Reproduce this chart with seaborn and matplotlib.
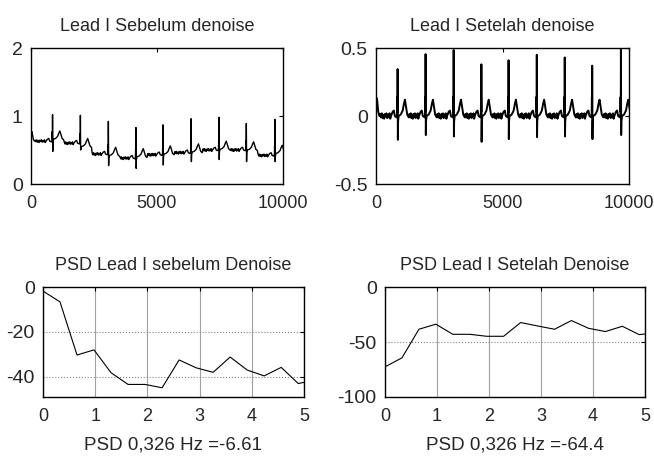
import numpy as np
import matplotlib
matplotlib.use('Agg')
import matplotlib.pyplot as plt
import seaborn as sns

# ECG beats (sample index of each R peak) shared by both traces
beat_pos = [855, 1960, 3070, 4165, 5240, 6355, 7460, 8545, 9680]

# raw lead I (before denoise): R peak, S trough, baseline before / after each beat
raw_r = [1.02, 1.01, 0.92, 0.83, 0.87, 0.96, 0.98, 0.89, 0.95]
raw_s = [0.48, 0.50, 0.27, 0.23, 0.28, 0.33, 0.36, 0.33, 0.33]
raw_pre = [0.63, 0.60, 0.44, 0.38, 0.43, 0.46, 0.50, 0.50, 0.42]
raw_post = [0.66, 0.55, 0.42, 0.40, 0.44, 0.47, 0.51, 0.50, 0.45]
raw_lead = [0.75, 0.77, 0.66, 0.63]

# lead I after denoise
clean_r = [0.345, 0.455, 0.485, 0.38, 0.41, 0.45, 0.43, 0.37, 0.49]
clean_s = [-0.175, -0.14, -0.15, -0.19, -0.17, -0.155, -0.15, -0.17, -0.14]
clean_pre = [0, 0, 0, 0, 0, 0, 0, 0, 0]
clean_post = [0, 0, 0, 0, 0, 0, 0, 0, 0]
clean_lead = [0.12, 0.13, 0.03, 0.0]

# beat shape around R (offsets in samples, level relative to baseline)
lead_x = [0, 40, 90, 140]
pre_off = [-260, -200, -150, -110, -40, -20, -12, -6]
pre_val = [0.0, 0.03, 0.04, 0.0, -0.01, 0.02, 0.14, 0.03]
s_off = 10
post_off = [18, 40, 120, 200, 250, 290, 330, 380, 440]
post_val = [-0.04, 0.0, 0.01, 0.04, 0.09, 0.12, 0.07, 0.01, -0.01]
ripple = [0.015, -0.01, 0.02, -0.015, 0.01, -0.02, 0.015, -0.005, 0.02, -0.015, 0.01, -0.01, 0.02, -0.02]

# PSD (dB) at 0.326 Hz resolution
psd_freq = [0, 0.326, 0.652, 0.978, 1.304, 1.630, 1.956, 2.282, 2.608, 2.934,
            3.260, 3.586, 3.912, 4.238, 4.564, 4.890, 5.216]
psd_before = [-1.8, -6.61, -30.3, -28.0, -38.2, -43.4, -43.4, -44.9, -32.5, -36.0,
              -38.0, -31.2, -37.0, -39.6, -35.8, -43.0, -41.5]
psd_after = [-72.6, -64.4, -38.4, -33.8, -43.0, -43.0, -44.8, -44.8, -32.3, -35.4,
             -38.4, -30.5, -37.5, -40.5, -35.7, -43.3, -41.5]


def build_ecg(lead, r_amp, s_amp, pre, post):
    xs, ys = list(lead_x), list(lead)
    gap_start = lead_x[-1]
    for i, p in enumerate(beat_pos):
        gx = np.linspace(gap_start, p + pre_off[0], len(ripple) + 2)[1:-1]
        xs += list(gx)
        ys += [pre[i] + v for v in ripple]
        xs += [p + o for o in pre_off] + [p, p + s_off] + [p + o for o in post_off]
        ys += [pre[i] + v for v in pre_val] + [r_amp[i], s_amp[i]] + [post[i] + v for v in post_val]
        gap_start = p + post_off[-1]
    return np.array(xs), np.array(ys)


sns.set_theme(style='white')
plt.rcParams['font.family'] = ['Liberation Sans', 'DejaVu Sans']
plt.rcParams['axes.unicode_minus'] = False

fig = plt.figure(figsize=(6.54, 4.59), dpi=100)
ax_tl = fig.add_axes([0.0474, 0.5991, 0.3853, 0.2963])
ax_tr = fig.add_axes([0.5749, 0.5991, 0.3869, 0.2963])
ax_bl = fig.add_axes([0.0657, 0.1351, 0.3991, 0.2396])
ax_br = fig.add_axes([0.5887, 0.1351, 0.3975, 0.2396])

x_raw, y_raw = build_ecg(raw_lead, raw_r, raw_s, raw_pre, raw_post)
x_cl, y_cl = build_ecg(clean_lead, clean_r, clean_s, clean_pre, clean_post)
sns.lineplot(x=x_raw, y=y_raw, ax=ax_tl, color='black', lw=1.0, sort=False, estimator=None)
sns.lineplot(x=x_cl, y=y_cl, ax=ax_tr, color='black', lw=1.4, sort=False, estimator=None)
sns.lineplot(x=psd_freq, y=psd_before, ax=ax_bl, color='black', lw=0.8, sort=False, estimator=None)
sns.lineplot(x=psd_freq, y=psd_after, ax=ax_br, color='black', lw=0.8, sort=False, estimator=None)

ax_tl.set(xlim=(0, 10000), ylim=(0, 2), xticks=[0, 5000, 10000], yticks=[0, 1, 2])
ax_tr.set(xlim=(0, 10000), ylim=(-0.5, 0.5), xticks=[0, 5000, 10000], yticks=[-0.5, 0, 0.5])
ax_tr.set_yticklabels(['-0.5', '0', '0.5'])
ax_bl.set(xlim=(0, 5), ylim=(-49, 0), xticks=range(6), yticks=[-40, -20, 0])
ax_br.set(xlim=(0, 5), ylim=(-100, 0), xticks=range(6), yticks=[-100, -50, 0])

titles = ['Lead I Sebelum denoise', 'Lead I Setelah denoise',
          'PSD Lead I sebelum Denoise', 'PSD Lead I Setelah Denoise']
for ax, t in zip([ax_tl, ax_tr, ax_bl, ax_br], titles):
    ax.set_title(t, fontsize=13, pad=12)
    ax.tick_params(direction='in', top=True, right=True, length=3, width=0.8,
                   labelsize=13, color='black')
    ax.tick_params(axis='x', pad=8)
    ax.tick_params(axis='y', pad=6, labelsize=14)
    for sp in ax.spines.values():
        sp.set_color('black')
        sp.set_linewidth(1.0)
    ax.set_ylabel('')

for ax in [ax_bl, ax_br]:
    ax.grid(axis='x', color='#a0a0a0', ls='-', lw=0.8)
    ax.grid(axis='y', color='#808080', ls=':', lw=0.8)
    ax.set_axisbelow(True)

ax_bl.set_xlabel('PSD 0,326 Hz =-6.61', fontsize=13.5, labelpad=8)
ax_br.set_xlabel('PSD 0,326 Hz =-64.4', fontsize=13.5, labelpad=8)

fig.savefig('out.png', dpi=100)
